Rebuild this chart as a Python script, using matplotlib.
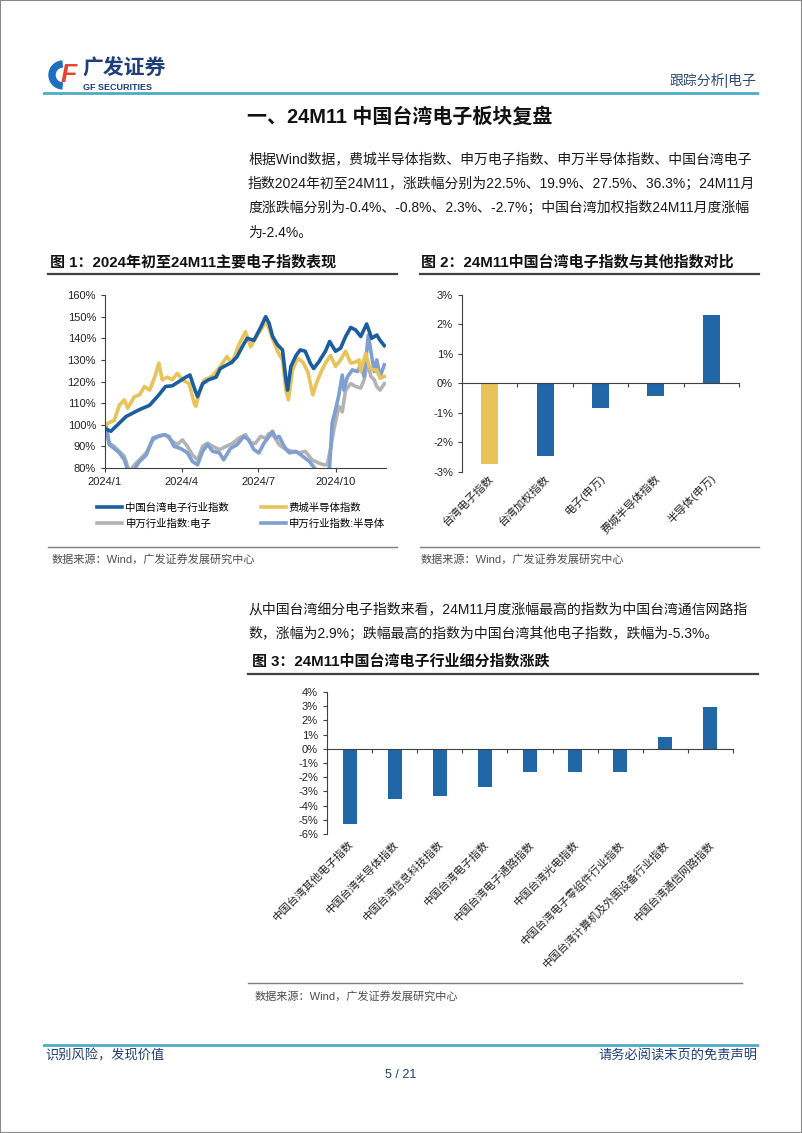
import pandas as pd
import matplotlib
matplotlib.use('Agg')
import matplotlib.pyplot as plt
from matplotlib.lines import Line2D
from matplotlib.patches import Rectangle, Wedge

plt.rcParams['font.family'] = ['Liberation Sans', 'Noto Sans CJK SC']
plt.rcParams['axes.unicode_minus'] = False

# ---- chart 1: index performance since start of 2024 (days since 2024-01-01, %)
tw_days = [1, 7, 15, 25, 41, 53, 64, 72, 80, 88, 96, 101, 107, 110, 116, 123, 132, 137, 145,
           151, 157, 163, 169, 177, 185, 191, 195, 199, 205, 211, 215, 217, 221, 227, 232, 238,
           244, 248, 254, 262, 267, 274, 280, 286, 292, 298, 304, 311, 317, 323, 327, 332]
tw_vals = [98, 97, 100, 103.8, 107, 109, 113.8, 117.7, 118, 120, 122, 123, 116, 113, 119, 120.8,
           122, 126, 127.7, 129, 131.5, 136, 140, 139, 145, 150, 147, 141, 137, 134.6, 121, 116,
           127, 132, 134.6, 134, 128.5, 126, 129, 134, 138.5, 134, 135.4, 140.8, 145, 143.8,
           140.8, 146.6, 140, 141.5, 139, 136.6]
sox_days = [1, 5, 11, 17, 23, 27, 35, 41, 47, 53, 59, 64, 68, 74, 80, 86, 92, 100, 106, 108,
            112, 118, 123, 129, 137, 145, 151, 159, 167, 173, 179, 185, 191, 195, 199, 205, 211,
            215, 218, 223, 229, 235, 241, 247, 251, 257, 262, 268, 274, 280, 286, 292, 298, 302,
            304, 310, 314, 318, 323, 327, 332]
sox_vals = [100, 101, 102, 109, 111.5, 107.7, 113, 113.8, 117.7, 116, 122, 128.5, 120.8, 122,
            120.8, 123.8, 120.8, 119, 110, 108.5, 114.6, 120.8, 121.5, 123, 127, 131.5, 128.5,
            137, 143, 136, 140, 143.8, 147.7, 144.6, 140, 134, 130, 116, 111.5, 125.4, 130.8,
            129, 124.6, 113.8, 119, 124.6, 128.5, 132, 127, 130, 134, 128.5, 129, 130, 124.6,
            133, 127, 125.4, 125.4, 121.5, 122.3]
sw_ele_days = [1, 5, 11, 17, 23, 29, 35, 41, 49, 57, 64, 72, 78, 86, 92, 98, 104, 110, 116, 122,
               128, 136, 144, 152, 159, 167, 173, 179, 185, 191, 195, 201, 207, 215, 223, 231,
               238, 246, 254, 260, 264, 268, 272, 278, 282, 286, 292, 298, 304, 308, 312, 316,
               320, 323, 327, 332]
sw_ele_vals = [100, 91.5, 90, 87.7, 85.4, 78, 81.5, 83.8, 87, 93, 94.6, 95.4, 93, 90.8, 93, 90,
               86, 83.8, 90, 91.5, 90, 88.5, 90, 91.5, 93.8, 95.4, 91.5, 91.5, 94.6, 93.8, 96,
               94.6, 90.8, 88.5, 87.7, 87, 87.7, 83.8, 82.3, 81.5, 81.5, 88.5, 97.7, 108.5, 106,
               116, 119, 117.7, 117, 120.8, 129, 122.3, 120.8, 117.7, 116, 119]
sw_semi_days = [1, 5, 11, 17, 23, 27, 33, 37, 41, 49, 57, 62, 70, 76, 82, 90, 98, 104, 110, 116,
                122, 128, 136, 141, 149, 157, 165, 171, 177, 183, 189, 195, 199, 203, 207, 213,
                219, 227, 235, 243, 249, 254, 264, 267, 270, 274, 278, 282, 284, 288, 294, 300,
                304, 308, 313, 316, 320, 323, 327, 332]
sw_semi_vals = [100, 90.8, 89, 87, 83.8, 79, 75, 80.8, 83, 86, 93.8, 94.6, 95.4, 94.6, 90, 89,
                87, 83, 81.5, 87.7, 90.8, 87.7, 87, 83.8, 89, 90.8, 94.6, 93, 88.5, 87, 91.5,
                94.6, 97, 93.8, 94.6, 90, 87, 87.7, 85.4, 83, 80, 76, 76, 80.8, 100.8, 107, 113.8,
                123, 116, 122, 125.4, 124.6, 127.7, 122.3, 141.5, 134, 124.6, 130, 122.3, 127.7]
series_names = ['中国台湾电子行业指数', '申万行业指数:电子', '费城半导体指数', '申万行业指数:半导体']
x1_ticks = ['2024-01-01', '2024-04-01', '2024-07-01', '2024-10-01']
x1_labels = ['2024/1', '2024/4', '2024/7', '2024/10']

# ---- chart 2: 24M11 monthly change (%)
cmp_names = ['台湾电子指数', '台湾加权指数', '电子(申万)', '费城半导体指数', '半导体(申万)']
cmp_vals = [-2.74, -2.45, -0.84, -0.41, 2.33]

# ---- chart 3: 24M11 sub-index change (%)
sub_names = ['中国台湾其他电子指数', '中国台湾半导体指数', '中国台湾信息科技指数', '中国台湾电子指数',
             '中国台湾电子通路指数', '中国台湾光电指数', '中国台湾电子零组件行业指数',
             '中国台湾计算机及外围设备行业指数', '中国台湾通信网路指数']
sub_vals = [-5.3, -3.54, -3.31, -2.72, -1.66, -1.65, -1.63, 0.85, 2.92]

W, H = 802, 1133
BLUE = '#1B5E9F'
BAR_BLUE = '#2166A6'
YELLOW = '#E8C35A'
GRAY = '#B3B3B3'
LBLUE = '#7E9FD0'
NAVY = '#1F3F7A'
AXC = '#404040'

fig = plt.figure(figsize=(W / 100, H / 100), dpi=100)


def fx(x):
    return x / W


def fy(y):
    return 1 - y / H


def txt(x, y, s, **kw):
    kw.setdefault('va', 'center')
    fig.text(fx(x), fy(y), s, **kw)


def hline(x0, x1, y, color, lw):
    fig.add_artist(Line2D([fx(x0), fx(x1)], [fy(y), fy(y)], color=color, lw=lw))


def box(l, t, r, b):
    return fig.add_axes([fx(l), fy(b), (r - l) / W, (b - t) / H])


def style(ax):
    for s in ['top', 'right']:
        ax.spines[s].set_visible(False)
    for s in ['left', 'bottom']:
        ax.spines[s].set_color(AXC)
    ax.tick_params(colors=AXC, labelcolor='#222222', length=3, width=0.8)


# page border
fig.add_artist(Rectangle((0, 0), 1, 1, transform=fig.transFigure, fill=False, ec='#8a8a8a', lw=1.5))

# header / logo
lg = box(45, 55, 175, 95)
lg.set_xlim(45, 175)
lg.set_ylim(95, 55)
lg.axis('off')
lg.add_patch(Wedge((63, 75), 14, 95, 265, width=6, color='#1E6FC0'))
lg.text(69, 75, 'F', color='#E8432D', fontsize=19, fontweight='bold', style='italic', ha='center', va='center')
lg.text(82, 69, '广发证券', color=NAVY, fontsize=15, fontweight='bold', va='center')
lg.text(83, 87, 'GF SECURITIES', color=NAVY, fontsize=6.5, fontweight='bold', va='center')
txt(756, 80, '跟踪分析|电子', ha='right', fontsize=10, color='#2B4A78')
hline(44, 757, 93, '#4BACC6', 2)

txt(400, 117, '一、24M11 中国台湾电子板块复盘', ha='center', fontsize=14.4, fontweight='bold', color='#111111')

body = ['根据Wind数据，费城半导体指数、申万电子指数、申万半导体指数、中国台湾电子',
        '指数2024年初至24M11，涨跌幅分别为22.5%、19.9%、27.5%、36.3%；24M11月',
        '度涨跌幅分别为-0.4%、-0.8%、2.3%、-2.7%；中国台湾加权指数24M11月度涨幅',
        '为-2.4%。']
for i, line in enumerate(body):
    txt(248, 159 + 24.5 * i, line, fontsize=10, color='#1a1a1a')

# figure titles
txt(50, 262, '图 1：2024年初至24M11主要电子指数表现', fontsize=10.8, fontweight='bold', color='#111111')
txt(421, 262, '图 2：24M11中国台湾电子指数与其他指数对比', fontsize=10.8, fontweight='bold', color='#111111')
hline(48, 397, 274, '#404040', 1.6)
hline(420, 759, 274, '#404040', 1.6)

# ---- chart 1
ax1 = box(105, 295, 386, 468)
t0 = pd.Timestamp('2024-01-01')
data1 = [(tw_days, tw_vals, BLUE), (sw_ele_days, sw_ele_vals, GRAY),
         (sox_days, sox_vals, YELLOW), (sw_semi_days, sw_semi_vals, LBLUE)]
handles = {}
for (days, vals, c), name in zip(data1, series_names):
    handles[name], = ax1.plot(t0 + pd.to_timedelta(days, 'D'), vals, color=c, lw=2.6,
                              solid_joinstyle='round')
# drawing order: gray, light blue, yellow, blue on top
handles['申万行业指数:电子'].set_zorder(2)
handles['申万行业指数:半导体'].set_zorder(2.1)
handles['费城半导体指数'].set_zorder(2.2)
handles['中国台湾电子行业指数'].set_zorder(2.3)
ax1.set_ylim(80, 160)
ax1.set_xlim(t0, t0 + pd.Timedelta(days=334))
ax1.set_yticks(range(80, 161, 10))
ax1.set_yticklabels([f'{v}%' for v in range(80, 161, 10)], fontsize=8)
ax1.set_xticks(pd.to_datetime(x1_ticks))
ax1.set_xticklabels(x1_labels, fontsize=8)
style(ax1)
ax1.legend([handles[n] for n in series_names], series_names, ncol=2, frameon=False,
           loc='upper left', bbox_to_anchor=(fx(88), fy(493)), bbox_transform=fig.transFigure,
           fontsize=7.5, handlelength=2.4, handletextpad=0.3, columnspacing=3.0, labelspacing=0.55)

# ---- chart 2
ax2 = box(462, 295, 739, 472)
cols = [YELLOW] + [BAR_BLUE] * (len(cmp_vals) - 1)
ax2.bar(range(len(cmp_vals)), cmp_vals, width=0.31, color=cols, zorder=1)
ax2.set_xlim(-0.5, len(cmp_vals) - 0.5)
ax2.set_ylim(-3, 3)
ax2.set_yticks(range(-3, 4))
ax2.set_yticklabels([f'{v}%' for v in range(-3, 4)], fontsize=8)
style(ax2)
ax2.spines['bottom'].set_position(('data', 0))
ax2.spines['bottom'].set_zorder(3)
ax2.set_xticks([i + 0.5 for i in range(len(cmp_vals))])
ax2.set_xticklabels([])
for i, n in enumerate(cmp_names):
    ax2.text(i + 0.05, -3.15, n, rotation=45, rotation_mode='anchor', ha='right', va='center',
             fontsize=8, color='#222222')

# sources
hline(48, 397, 547, '#7f7f7f', 1)
hline(420, 759, 547, '#7f7f7f', 1)
txt(52, 559, '数据来源：Wind，广发证券发展研究中心', fontsize=8, color='#4d4d4d')
txt(421, 559, '数据来源：Wind，广发证券发展研究中心', fontsize=8, color='#4d4d4d')

para2 = ['从中国台湾细分电子指数来看，24M11月度涨幅最高的指数为中国台湾通信网路指',
         '数，涨幅为2.9%；跌幅最高的指数为中国台湾其他电子指数，跌幅为-5.3%。']
for i, line in enumerate(para2):
    txt(248, 609 + 24.5 * i, line, fontsize=10, color='#1a1a1a')

txt(252, 661, '图 3：24M11中国台湾电子行业细分指数涨跌', fontsize=10.8, fontweight='bold', color='#111111')
hline(248, 758, 674, '#404040', 1.6)

# ---- chart 3
ax3 = box(327, 692, 733, 834)
ax3.bar(range(len(sub_vals)), sub_vals, width=0.31, color=BAR_BLUE, zorder=1)
ax3.set_xlim(-0.5, len(sub_vals) - 0.5)
ax3.set_ylim(-6, 4)
ax3.set_yticks(range(-6, 5))
ax3.set_yticklabels([f'{v}%' for v in range(-6, 5)], fontsize=8)
style(ax3)
ax3.spines['bottom'].set_position(('data', 0))
ax3.spines['bottom'].set_zorder(3)
ax3.set_xticks([i + 0.5 for i in range(len(sub_vals))])
ax3.set_xticklabels([])
for i, n in enumerate(sub_names):
    ax3.text(i + 0.05, -6.6, n, rotation=45, rotation_mode='anchor', ha='right', va='center',
             fontsize=7.8, color='#222222')

hline(248, 742, 983, '#7f7f7f', 1)
txt(255, 996, '数据来源：Wind，广发证券发展研究中心', fontsize=8, color='#4d4d4d')

# footer
hline(44, 757, 1045, '#4BACC6', 2)
txt(45, 1056, '识别风险，发现价值', fontsize=9.5, color=NAVY)
txt(757, 1056, '请务必阅读末页的免责声明', ha='right', fontsize=9.5, color=NAVY)
txt(401, 1075, '5 / 21', ha='center', fontsize=9, color=NAVY)

fig.savefig('out.png', dpi=100)
